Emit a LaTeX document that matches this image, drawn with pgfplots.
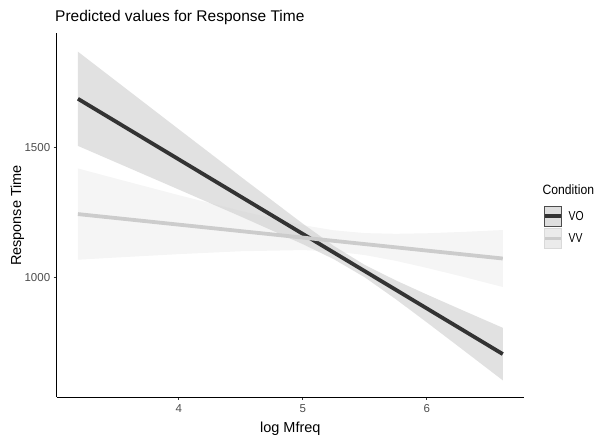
\documentclass[border=0pt]{standalone}
\usepackage{pgfplots}
\pgfplotsset{compat=1.18}
\usepackage{fontspec}
\setmainfont{Liberation Sans}
\definecolor{voline}{HTML}{333333}
\definecolor{vvline}{HTML}{CCCCCC}
\definecolor{ticklab}{HTML}{4D4D4D}
\begin{document}
\begin{tikzpicture}[x=1pt,y=1pt]
\path[use as bounding box] (0,0) rectangle (595,436);
\begin{axis}[
  at={(56.7pt,39pt)}, anchor=south west,
  width=467.3pt, height=364pt, scale only axis,
  xmin=3.016, xmax=6.783, ymin=540, ymax=1940,
  axis x line*=bottom, axis y line*=left,
  axis line style={black, line width=0.8pt},
  xtick={4,5,6}, ytick={1000,1500},
  tick align=outside, major tick length=3pt,
  tick style={black!80, line width=0.8pt},
  ticklabel style={font=\fontsize{11.5}{13}\selectfont, text=ticklab},
  xticklabel style={yshift=-1pt},
  /pgf/number format/assume math mode=true,
  /pgf/number format/1000 sep={},
]
% VO ribbon
\addplot[draw=none, fill=voline, fill opacity=0.15] coordinates {
 (3.187,1868.2) (3.5,1753.3) (4,1569.8) (4.5,1387.1) (5,1206.6) (5.25,1121.0)
 (5.5,1047.7) (5.75,988.4) (6,934.1) (6.3,871.0) (6.612,806.1)
 (6.612,604.1) (6.3,718.0) (6,826.9) (5.75,916.0) (5.5,1000.1) (5.25,1070.0)
 (5,1127.8) (4.5,1234.1) (4,1338.0) (3.5,1441.3) (3.187,1505.8)
} -- cycle;
% VV ribbon
\addplot[draw=none, fill=vvline, fill opacity=0.2] coordinates {
 (3.187,1419.0) (3.5,1379.2) (4,1316.3) (4.5,1255.4) (5,1200.9) (5.25,1181.1)
 (5.5,1170.3) (5.75,1167.6) (6,1169.7) (6.3,1175.1) (6.612,1182.1)
 (6.612,963.1) (6.3,1001.3) (6,1036.5) (5.75,1063.6) (5.5,1085.9) (5.25,1100.1)
 (5,1105.1) (4.5,1100.6) (4,1089.5) (3.5,1076.6) (3.187,1068.0)
} -- cycle;
% VO line
\addplot[voline, line width=3.8pt] coordinates {(3.187,1687) (6.612,705.1)};
% VV line
\addplot[vvline, line width=3.8pt] coordinates {(3.187,1243.5) (6.612,1072.6)};
\end{axis}
% title and axis labels
\node[anchor=west, inner sep=0pt, font=\fontsize{15.5}{18}\selectfont] at (55,419) {Predicted values for Response Time};
\node[inner sep=0pt, font=\fontsize{14.5}{17}\selectfont] at (290.3,7) {log Mfreq};
\node[rotate=90, inner sep=0pt, font=\fontsize{14.5}{17}\selectfont] at (17.5,220.5) {Response Time};
% legend
\node[anchor=west, inner sep=0pt, font=\fontsize{13.5}{16}\selectfont] at (542.5,246) {\scalebox{0.9}[1]{Condition}};
\fill[fill=black!13, draw=black!70, line width=0.9pt] (544.5,209.8) rectangle (561.5,229.8);
\draw[voline, line width=3.8pt] (545,219.8) -- (561,219.8);
\fill[fill=black!8, draw=black!15, line width=0.9pt] (544.5,187.5) rectangle (561.5,207.5);
\draw[vvline, line width=3.8pt] (545,197.5) -- (561,197.5);
\node[anchor=west, inner sep=0pt, font=\fontsize{13}{15}\selectfont] at (568.5,219.8) {\scalebox{0.8}[1]{VO}};
\node[anchor=west, inner sep=0pt, font=\fontsize{13}{15}\selectfont] at (568.5,197.5) {\scalebox{0.8}[1]{VV}};
\end{tikzpicture}
\end{document}
